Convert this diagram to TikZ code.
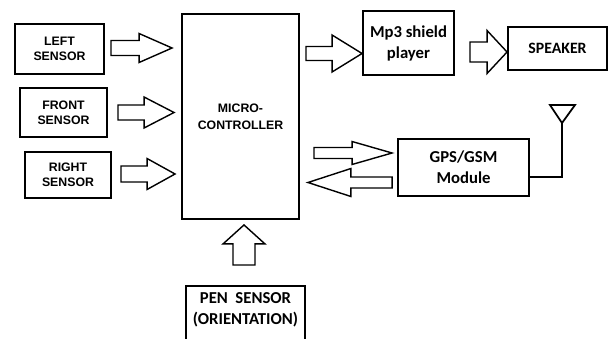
\documentclass[tikz,border=0pt]{standalone}
\usepackage{fontspec}
\setmainfont{Liberation Sans}
\newfontfamily\calibfont{Carlito}
\usetikzlibrary{positioning}
\usetikzlibrary{calc}

\tikzset{
	box/.style={draw,line width=1.1pt,inner sep=0pt,align=center},
	arialtxt/.style={font=\bfseries\fontsize{7}{8.5}\selectfont},
	calibtxt/.style={font=\calibfont\bfseries\fontsize{9.5}{12}\selectfont},
	blockarr/.style={draw,line width=0.8pt,line join=miter,fill=white},
}

% hollow block arrow: tail, tip, shaft half width, head half width, head length
\newcommand{\blockarrow}[5]{%
	\coordinate (ba-t) at (#1);
	\coordinate (ba-h) at (#2);
	\coordinate (ba-b) at ($(ba-h)!#5!(ba-t)$);
	\draw [blockarr] ($(ba-t)!#3!90:(ba-h)$) -- ($(ba-b)!#3!-90:(ba-t)$) -- ($(ba-b)!#4!-90:(ba-t)$)
		-- (ba-h) -- ($(ba-b)!#4!90:(ba-t)$) -- ($(ba-b)!#3!90:(ba-t)$) -- ($(ba-t)!#3!-90:(ba-h)$) -- cycle;
}

\begin{document}
\begin{tikzpicture}[x=0.02cm,y=-0.02cm]
	\useasboundingbox (0,0) rectangle (608,338);

	% sensors.....................
	\node [box,arialtxt,minimum width=1.78cm,minimum height=1cm] (ls) at (59.5,49) {LEFT\\SENSOR};
	\node [box,arialtxt,minimum width=1.74cm,minimum height=0.98cm] (fs) at (63.5,112.5) {FRONT\\SENSOR};
	\node [box,arialtxt,minimum width=1.72cm,minimum height=0.92cm] (rs) at (68,175) {RIGHT\\SENSOR};

	% micro-controller.....................
	\node [box,font=\bfseries\fontsize{7}{9.5}\selectfont,minimum width=2.34cm,minimum height=4.1cm] (mc) at (240.5,116.5) {MICRO-\\CONTROLLER};

	% outputs.....................
	\node [box,calibtxt,minimum width=1.82cm,minimum height=1.28cm] (mp3) at (408.5,43) {Mp3 shield\\player};
	\node [box,calibtxt,font=\calibfont\bfseries\fontsize{9}{11}\selectfont,minimum width=1.98cm,minimum height=0.86cm] (spk) at (557.5,48.5) {SPEAKER};
	\node [box,calibtxt,minimum width=2.62cm,minimum height=1.14cm] (gps) at (463.5,167.5) {GPS/GSM\\Module};

	% pen sensor (cut by the page edge).....................
	\node [box,minimum width=2.38cm,minimum height=1.3cm,anchor=north] (pen) at (245.5,285) {};
	\node [calibtxt,align=center] (pentext) at (245.5,310) {PEN\ \ SENSOR\\(ORIENTATION)};

	% antenna.....................
	\coordinate (antfoot) at (562,177);
	\coordinate (anttip) at (562,123);
	\coordinate (antl) at (550,105);
	\coordinate (antr) at (575,105);
	\draw [line width=1pt] (gps.east |- antfoot) -- (antfoot) -- (anttip);
	\draw [line width=1pt,line join=miter] (antl) -- (antr) -- (anttip) -- cycle;

	% block arrows.....................
	\blockarrow{$(ls.east)+(6,-1)$}{$(ls.east -| mc.west)+(-9,-1)$}{0.15cm}{0.29cm}{0.66cm}
	\blockarrow{$(fs.east)+(10,0)$}{$(fs.east -| mc.west)+(-7,0)$}{0.15cm}{0.31cm}{0.60cm}
	\blockarrow{$(rs.east)+(9,-1)$}{$(rs.east -| mc.west)+(-6,-1)$}{0.16cm}{0.31cm}{0.56cm}
	\blockarrow{$(mp3.west -| mc.east)+(6,10.5)$}{$(mp3.west)+(0,10.5)$}{0.14cm}{0.37cm}{0.60cm}
	\blockarrow{$(spk.west -| mp3.east)+(15,3.5)$}{$(spk.west)+(0,3.5)$}{0.20cm}{0.43cm}{0.40cm}
	\blockarrow{$(gps.west -| mc.east)+(14,-14.5)$}{$(gps.west)+(-5,-14.5)$}{0.11cm}{0.23cm}{0.80cm}
	\blockarrow{$(gps.west)+(-5,15)$}{$(gps.west -| mc.east)+(8,15)$}{0.11cm}{0.28cm}{0.86cm}
	\blockarrow{$(pen.north)+(-1.5,-20)$}{$(mc.south -| pen.north)+(-1.5,5)$}{0.22cm}{0.42cm}{0.38cm}
\end{tikzpicture}
\end{document}
